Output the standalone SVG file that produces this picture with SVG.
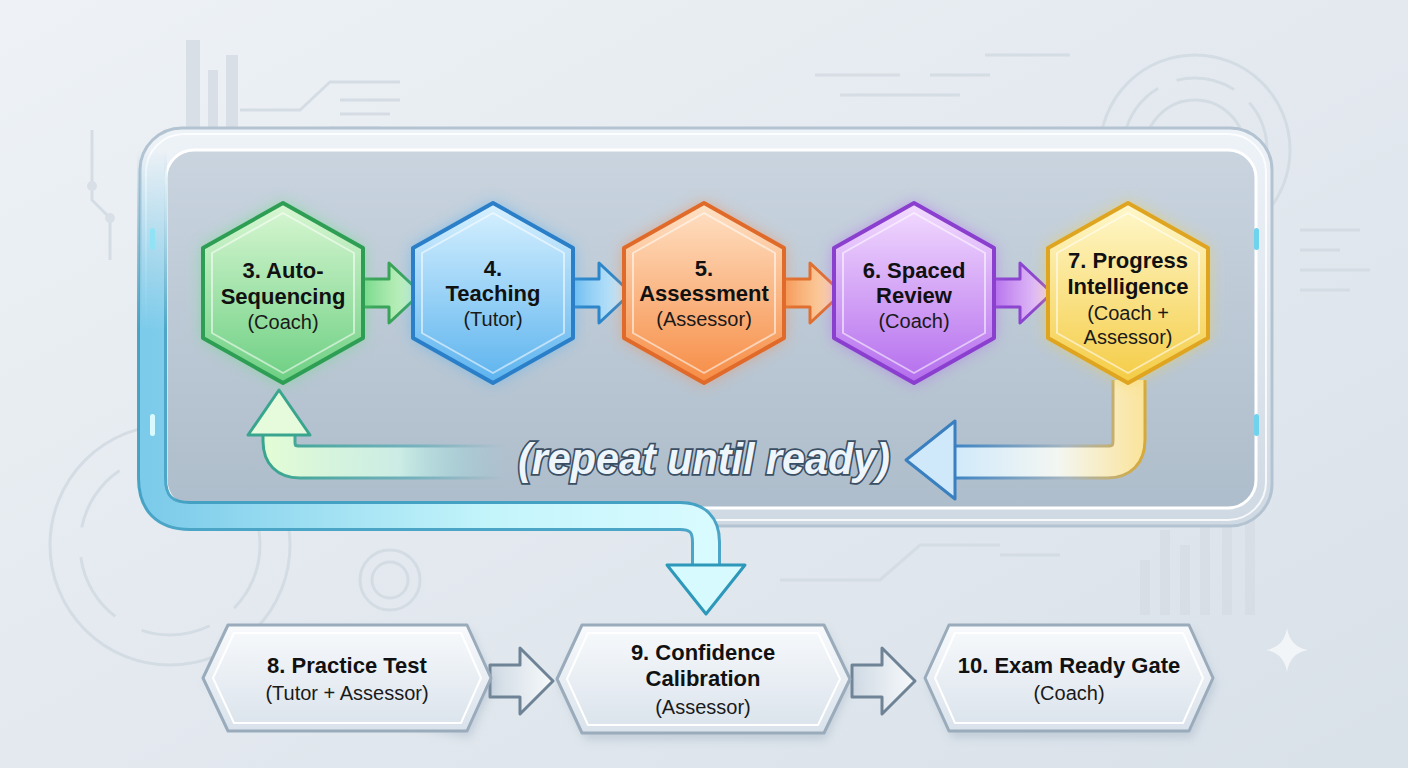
<svg xmlns="http://www.w3.org/2000/svg" width="1408" height="768" viewBox="0 0 1408 768">
<defs>
  <linearGradient id="bg" x1="0" y1="0" x2="1" y2="1">
    <stop offset="0" stop-color="#eef2f6"/>
    <stop offset="0.5" stop-color="#e3e9ef"/>
    <stop offset="1" stop-color="#d9e1e9"/>
  </linearGradient>
  <linearGradient id="panel" x1="0" y1="0" x2="0" y2="1">
    <stop offset="0" stop-color="#c9d4df"/>
    <stop offset="1" stop-color="#aebdcb"/>
  </linearGradient>
  <linearGradient id="frame" x1="0" y1="0" x2="0" y2="1">
    <stop offset="0" stop-color="#eef3f8"/>
    <stop offset="1" stop-color="#cfd9e3"/>
  </linearGradient>
  <linearGradient id="gGreen" x1="0" y1="0" x2="0" y2="1"><stop offset="0" stop-color="#d9f7d3"/><stop offset="1" stop-color="#6ccf82"/></linearGradient>
  <linearGradient id="gBlue" x1="0" y1="0" x2="0" y2="1"><stop offset="0" stop-color="#d8f1ff"/><stop offset="1" stop-color="#5cb3ee"/></linearGradient>
  <linearGradient id="gOrange" x1="0" y1="0" x2="0" y2="1"><stop offset="0" stop-color="#ffe2c6"/><stop offset="1" stop-color="#f68c45"/></linearGradient>
  <linearGradient id="gPurple" x1="0" y1="0" x2="0" y2="1"><stop offset="0" stop-color="#f3dcff"/><stop offset="1" stop-color="#b46ded"/></linearGradient>
  <linearGradient id="gYellow" x1="0" y1="0" x2="0" y2="1"><stop offset="0" stop-color="#fff8cc"/><stop offset="1" stop-color="#f4cc45"/></linearGradient>
  <linearGradient id="aGreen" x1="0" y1="0" x2="1" y2="0"><stop offset="0" stop-color="#78d88c"/><stop offset="1" stop-color="#dcfad0"/></linearGradient>
  <linearGradient id="aBlue" x1="0" y1="0" x2="1" y2="0"><stop offset="0" stop-color="#72bff1"/><stop offset="1" stop-color="#d6f0fd"/></linearGradient>
  <linearGradient id="aOrange" x1="0" y1="0" x2="1" y2="0"><stop offset="0" stop-color="#f59a58"/><stop offset="1" stop-color="#ffe3bd"/></linearGradient>
  <linearGradient id="aPurple" x1="0" y1="0" x2="1" y2="0"><stop offset="0" stop-color="#b672ec"/><stop offset="1" stop-color="#eed4fb"/></linearGradient>
  <linearGradient id="gBottom" x1="0" y1="0" x2="0" y2="1"><stop offset="0" stop-color="#f8fafc"/><stop offset="1" stop-color="#d9e2eb"/></linearGradient>
  <linearGradient id="aGray" x1="0" y1="0" x2="1" y2="0"><stop offset="0" stop-color="#cfd9e3"/><stop offset="1" stop-color="#f7fafc"/></linearGradient>
  <linearGradient id="retGreen" gradientUnits="userSpaceOnUse" x1="270" y1="0" x2="505" y2="0">
    <stop offset="0" stop-color="#e2fcd6" stop-opacity="1"/>
    <stop offset="0.55" stop-color="#d6f3ea" stop-opacity="0.9"/>
    <stop offset="1" stop-color="#cfe6f0" stop-opacity="0"/>
  </linearGradient>
  <linearGradient id="retGreenEdge" gradientUnits="userSpaceOnUse" x1="270" y1="0" x2="505" y2="0">
    <stop offset="0" stop-color="#3aa58f" stop-opacity="1"/>
    <stop offset="0.6" stop-color="#4aa7b0" stop-opacity="0.6"/>
    <stop offset="1" stop-color="#4aa7b0" stop-opacity="0"/>
  </linearGradient>
  <linearGradient id="retYellow" gradientUnits="userSpaceOnUse" x1="950" y1="0" x2="1145" y2="0">
    <stop offset="0" stop-color="#cfe9fb"/>
    <stop offset="0.55" stop-color="#f3f6f2"/>
    <stop offset="1" stop-color="#fbe49a"/>
  </linearGradient>
  <linearGradient id="retYellowEdge" gradientUnits="userSpaceOnUse" x1="950" y1="0" x2="1145" y2="0">
    <stop offset="0" stop-color="#3a82c4"/>
    <stop offset="0.6" stop-color="#a8b6c0"/>
    <stop offset="1" stop-color="#d7a936"/>
  </linearGradient>
  <linearGradient id="tube" gradientUnits="userSpaceOnUse" x1="150" y1="0" x2="720" y2="0">
    <stop offset="0" stop-color="#7ccbea"/>
    <stop offset="0.6" stop-color="#c4f5fb"/>
    <stop offset="1" stop-color="#d9fbff"/>
  </linearGradient>
  <linearGradient id="fadeTop" gradientUnits="userSpaceOnUse" x1="0" y1="150" x2="0" y2="330">
    <stop offset="0" stop-color="#fff" stop-opacity="0"/>
    <stop offset="1" stop-color="#fff" stop-opacity="1"/>
  </linearGradient>
  <mask id="tubeMask" maskUnits="userSpaceOnUse" x="0" y="0" width="1408" height="768">
    <rect x="0" y="0" width="1408" height="768" fill="url(#fadeTop)"/>
  </mask>
  <filter id="glow" x="-30%" y="-30%" width="160%" height="160%">
    <feGaussianBlur stdDeviation="8"/>
  </filter>
  <filter id="shadow" x="-20%" y="-20%" width="140%" height="160%">
    <feGaussianBlur stdDeviation="5"/>
  </filter>
  <path id="hex" d="M0,-90 L80,-45 L80,45 L0,90 L-80,45 L-80,-45 Z"/>
  <path id="hexIn" d="M0,-80 L71,-40 L71,40 L0,80 L-71,40 L-71,-40 Z"/>
  <path id="arrTop" d="M-4,-14 L26,-14 L26,-30 L58,0 L26,30 L26,14 L-4,14 Z"/>
  <path id="arrBot" d="M0,-16 L30,-16 L30,-33 L63,0 L30,33 L30,16 L0,16 Z"/>
  <style>
    .t1{font-family:"Liberation Sans",Arial,sans-serif;font-weight:bold;font-size:22px;fill:#111;text-anchor:middle}
    .t2{font-family:"Liberation Sans",Arial,sans-serif;font-size:20px;fill:#1a1a1a;text-anchor:middle}
    .deco{fill:none;stroke:#d2dae2;stroke-width:3}
    .decoF{fill:#d6dde5}
    .hexS{stroke-width:4;stroke-linejoin:round}
    .inner{fill:none;stroke:#ffffff;stroke-opacity:0.55;stroke-width:2;stroke-linejoin:round}
    .bnode{fill:url(#gBottom);stroke:#9aabbc;stroke-width:3;stroke-linejoin:round}
    .bin{fill:none;stroke:#ffffff;stroke-width:2;stroke-linejoin:round}
  </style>
</defs>

<rect width="1408" height="768" fill="url(#bg)"/>

<!-- decorative background -->
<g id="decor" opacity="0.85">
  <rect x="186" y="40" width="14" height="90" class="decoF"/>
  <rect x="208" y="70" width="10" height="60" class="decoF"/>
  <rect x="226" y="55" width="12" height="75" class="decoF"/>
  <path class="deco" d="M240,110 L300,110 L330,82 L400,82"/>
  <path class="deco" d="M340,100 L400,100 M340,114 L390,114 M330,128 L380,128" stroke-width="2"/>
  <path class="deco" d="M92,130 L92,200 L110,218 L110,260" stroke-width="2"/>
  <circle cx="92" cy="186" r="5" class="decoF"/>
  <circle cx="110" cy="218" r="5" class="decoF"/>
  <circle cx="1195" cy="150" r="95" class="deco" stroke-width="4"/>
  <circle cx="1195" cy="150" r="72" class="deco" stroke-width="8" stroke-dasharray="60 20"/>
  <circle cx="1195" cy="150" r="50" class="deco" stroke-width="3"/>
  <path class="deco" d="M815,75 L900,75 M930,75 L990,75 M840,95 L960,95 M985,55 L1070,55" stroke-width="4"/>
  <circle cx="170" cy="545" r="120" class="deco" stroke-width="6"/>
  <circle cx="170" cy="545" r="90" class="deco" stroke-width="18" stroke-dasharray="70 30"/>
  <circle cx="390" cy="580" r="30" class="deco" stroke-width="4"/>
  <circle cx="390" cy="580" r="18" class="deco" stroke-width="2"/>
  <rect x="1140" y="560" width="10" height="55" class="decoF"/>
  <rect x="1160" y="530" width="10" height="85" class="decoF"/>
  <rect x="1180" y="545" width="10" height="70" class="decoF"/>
  <rect x="1200" y="520" width="10" height="95" class="decoF"/>
  <rect x="1222" y="410" width="10" height="205" class="decoF"/>
  <rect x="1245" y="440" width="10" height="175" class="decoF"/>
  <path class="deco" d="M780,580 L880,580 L920,545 L1000,545 M1000,555 L1060,555" stroke-width="2"/>
  <path class="deco" d="M1300,230 L1360,230 M1300,250 L1340,250 M1300,270 L1370,270 M1300,290 L1350,290" stroke-width="3"/>
  <path d="M1287,628 Q1290,647 1308,650 Q1290,653 1287,672 Q1284,653 1266,650 Q1284,647 1287,628 Z" fill="#f6f8fa"/>
</g>

<!-- loop container -->
<g id="loop-frame">
  <rect x="140" y="128" width="1132" height="398" rx="42" fill="url(#frame)" stroke="#b4c3d1" stroke-width="3"/>
  <rect x="146" y="134" width="1120" height="386" rx="38" fill="none" stroke="#ffffff" stroke-width="2" opacity="0.8"/>
  <rect x="166" y="150" width="1090" height="358" rx="28" fill="url(#panel)" stroke="#ffffff" stroke-width="3"/>
  <rect x="1254" y="228" width="5" height="22" rx="2.5" fill="#6fd3ee"/>
  <rect x="1254" y="414" width="5" height="22" rx="2.5" fill="#6fd3ee"/>
</g>

<!-- connectors -->
<g id="connectors">
  <!-- exit tube from loop to step 9 -->
  <g mask="url(#tubeMask)">
    <path d="M152,150 L152,478 Q152,516 190,516 L680,516 Q706,516 706,542 L706,568" fill="none" stroke="#3a9dc2" stroke-width="30" stroke-linejoin="round" opacity="0.9"/>
    <path d="M152,150 L152,478 Q152,516 190,516 L680,516 Q706,516 706,542 L706,570" fill="none" stroke="url(#tube)" stroke-width="24" stroke-linejoin="round"/>
  </g>
  <rect x="150" y="228" width="5" height="22" rx="2.5" fill="#8fe3f5"/>
  <rect x="150" y="414" width="5" height="22" rx="2.5" fill="#d9fbff"/>
  <polygon points="667,565 745,565 706,614" fill="#d6fafe" stroke="#2d98b9" stroke-width="3" stroke-linejoin="round"/>

  <!-- top row arrows -->
  <use href="#arrTop" transform="translate(363,293)" fill="url(#aGreen)" stroke="#3aa35a" stroke-width="3" stroke-linejoin="round"/>
  <use href="#arrTop" transform="translate(573,293)" fill="url(#aBlue)" stroke="#2d86c9" stroke-width="3" stroke-linejoin="round"/>
  <use href="#arrTop" transform="translate(784,293)" fill="url(#aOrange)" stroke="#e07030" stroke-width="3" stroke-linejoin="round"/>
  <use href="#arrTop" transform="translate(994,293)" fill="url(#aPurple)" stroke="#8c45cf" stroke-width="3" stroke-linejoin="round"/>

  <!-- return arrow: left (to step 3) -->
  <path d="M505,462 L300,462 Q279,462 279,441 L279,430" fill="none" stroke="url(#retGreenEdge)" stroke-width="35" stroke-linejoin="round"/>
  <path d="M505,462 L300,462 Q279,462 279,441 L279,428" fill="none" stroke="url(#retGreen)" stroke-width="29" stroke-linejoin="round"/>
  <polygon points="279,390 310,435 248,435" fill="#e6fbdc" stroke="#3aa58f" stroke-width="3" stroke-linejoin="round"/>

  <!-- return arrow: right (from step 7) -->
  <path d="M1129,380 L1129,440 Q1129,462 1107,462 L950,462" fill="none" stroke="url(#retYellowEdge)" stroke-width="35" stroke-linejoin="round"/>
  <path d="M1129,380 L1129,440 Q1129,462 1107,462 L948,462" fill="none" stroke="url(#retYellow)" stroke-width="29" stroke-linejoin="round"/>
  <polygon points="906,460 955,421 955,499" fill="#cfe9fb" stroke="#3a7fc0" stroke-width="3" stroke-linejoin="round"/>

  <text x="704" y="474" font-family="'Liberation Sans',Arial,sans-serif" font-style="italic" font-weight="bold" font-size="44" fill="#eef5fb" stroke="#3a4e64" stroke-width="3.5" paint-order="stroke" text-anchor="middle" textLength="372" lengthAdjust="spacingAndGlyphs">(repeat until ready)</text>

  <!-- bottom row arrows -->
  <use href="#arrBot" transform="translate(490,681)" fill="url(#aGray)" stroke="#6f8396" stroke-width="3" stroke-linejoin="round"/>
  <use href="#arrBot" transform="translate(852,681)" fill="url(#aGray)" stroke="#6f8396" stroke-width="3" stroke-linejoin="round"/>
</g>

<!-- top row nodes -->
<g id="step3" transform="translate(283,293)">
  <use href="#hex" fill="#5ee07a" opacity="0.6" filter="url(#glow)"/>
  <use href="#hex" class="hexS" fill="url(#gGreen)" stroke="#2e9e55"/>
  <use href="#hexIn" class="inner"/>
  <text class="t1" x="0" y="-15">3. Auto-</text>
  <text class="t1" x="0" y="11">Sequencing</text>
  <text class="t2" x="0" y="36">(Coach)</text>
</g>
<g id="step4" transform="translate(493,293)">
  <use href="#hex" fill="#4aaef0" opacity="0.6" filter="url(#glow)"/>
  <use href="#hex" class="hexS" fill="url(#gBlue)" stroke="#2a7fc8"/>
  <use href="#hexIn" class="inner"/>
  <text class="t1" x="0" y="-17">4.</text>
  <text class="t1" x="0" y="8">Teaching</text>
  <text class="t2" x="0" y="33">(Tutor)</text>
</g>
<g id="step5" transform="translate(704,293)">
  <use href="#hex" fill="#f7884a" opacity="0.6" filter="url(#glow)"/>
  <use href="#hex" class="hexS" fill="url(#gOrange)" stroke="#e06a2a"/>
  <use href="#hexIn" class="inner"/>
  <text class="t1" x="0" y="-17">5.</text>
  <text class="t1" x="0" y="8">Assessment</text>
  <text class="t2" x="0" y="33">(Assessor)</text>
</g>
<g id="step6" transform="translate(914,293)">
  <use href="#hex" fill="#b060f0" opacity="0.6" filter="url(#glow)"/>
  <use href="#hex" class="hexS" fill="url(#gPurple)" stroke="#8a3fcf"/>
  <use href="#hexIn" class="inner"/>
  <text class="t1" x="0" y="-15">6. Spaced</text>
  <text class="t1" x="0" y="10">Review</text>
  <text class="t2" x="0" y="35">(Coach)</text>
</g>
<g id="step7" transform="translate(1128,293)">
  <use href="#hex" fill="#f5d040" opacity="0.65" filter="url(#glow)"/>
  <use href="#hex" class="hexS" fill="url(#gYellow)" stroke="#dfa520"/>
  <use href="#hexIn" class="inner"/>
  <text class="t1" x="0" y="-25">7. Progress</text>
  <text class="t1" x="0" y="1">Intelligence</text>
  <text class="t2" x="0" y="27">(Coach +</text>
  <text class="t2" x="0" y="51">Assessor)</text>
</g>

<!-- bottom row nodes -->
<g id="step8">
  <polygon points="206,684 230,630 470,630 494,684 470,738" fill="#8fa3b6" opacity="0.35" filter="url(#shadow)"/>
  <polygon class="bnode" points="203,678 228,625 467,625 491,678 467,731 228,731"/>
  <polygon class="bin" points="213,678 234,633 461,633 481,678 461,723 234,723"/>
  <text class="t1" x="347" y="673">8. Practice Test</text>
  <text class="t2" x="347" y="700">(Tutor + Assessor)</text>
</g>
<g id="step9">
  <polygon points="560,684 585,630 826,630 852,684 826,740 585,740" fill="#8fa3b6" opacity="0.35" filter="url(#shadow)"/>
  <polygon class="bnode" points="557,679 582,625 824,625 850,679 824,733 582,733"/>
  <polygon class="bin" points="567,679 588,633 818,633 840,679 818,725 588,725"/>
  <text class="t1" x="703" y="660">9. Confidence</text>
  <text class="t1" x="703" y="686">Calibration</text>
  <text class="t2" x="703" y="714">(Assessor)</text>
</g>
<g id="step10">
  <polygon points="928,684 952,630 1192,630 1216,684 1192,738 952,738" fill="#8fa3b6" opacity="0.35" filter="url(#shadow)"/>
  <polygon class="bnode" points="925,678 949,625 1189,625 1213,678 1189,731 949,731"/>
  <polygon class="bin" points="935,678 955,633 1183,633 1203,678 1183,723 955,723"/>
  <text class="t1" x="1069" y="673">10. Exam Ready Gate</text>
  <text class="t2" x="1069" y="700">(Coach)</text>
</g>
</svg>
